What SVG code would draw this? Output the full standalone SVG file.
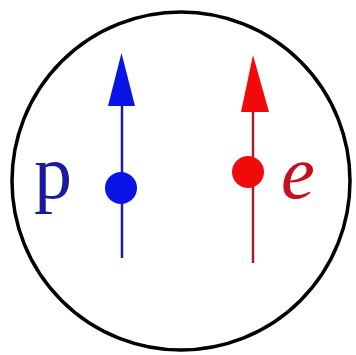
<svg xmlns="http://www.w3.org/2000/svg" width="356" height="355" viewBox="0 0 356 355">
<style>
.lbl{font-family:"Liberation Serif","Times New Roman",serif;font-size:76px}
</style>
<rect width="356" height="355" fill="#fff"/>
<circle cx="181" cy="181" r="169" fill="none" stroke="#000" stroke-width="3.5"/>
<g id="connectors">
<line x1="122" y1="104" x2="122" y2="258" stroke="#1a1aa0" stroke-width="2.5"/>
<line x1="253" y1="110" x2="253" y2="263" stroke="#a0202a" stroke-width="2.5"/>
</g>
<g id="proton">
<polygon points="121.5,53 108,106 135,106" fill="#0a14e6"/>
<circle cx="121" cy="188" r="16" fill="#0a14e6"/>
<text class="lbl" x="34" y="198" fill="#1a1aa0">p</text>
</g>
<g id="electron">
<polygon points="253,55 241,112 269,112" fill="#f00a0a"/>
<circle cx="248" cy="172" r="16" fill="#f00a0a"/>
<text class="lbl" x="281" y="198" fill="#c4101e" font-style="italic">e</text>
</g>
</svg>
